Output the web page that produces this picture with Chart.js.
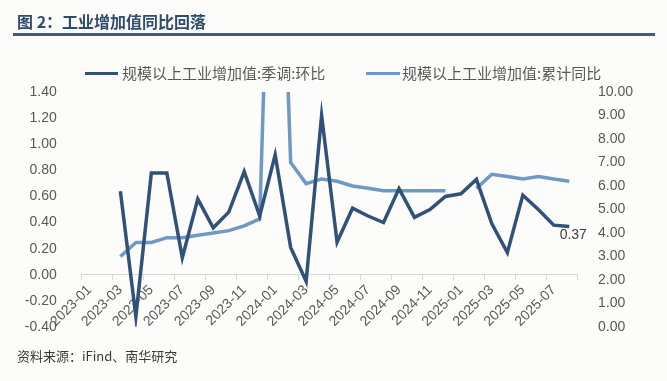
<!DOCTYPE html>
<html>
<head>
<meta charset="utf-8">
<script src="https://cdn.jsdelivr.net/npm/chart.js@4.4.1/dist/chart.umd.min.js"></script>
<style>
  body { margin: 0; background: #fcfcfa; }
  #wrap { position: relative; width: 667px; height: 381px; overflow: hidden; }
  #chart { position: absolute; left: 0; top: 0; }
  .title {
    position: absolute; left: 17px; top: 13px;
    font: bold 16px/16px "Noto Sans CJK SC", sans-serif; color: #2f4b6e;
  }
  .rule { position: absolute; left: 13px; top: 33px; width: 642px; height: 3px; background: #3f5c82; }
  .legend { position: absolute; top: 65px; left: 0; font: 15px/15px "Noto Sans CJK SC", sans-serif; color: #595959; }
  .legend .bar { position: absolute; top: 6.5px; height: 3px; }
  .legend .txt { position: absolute; top: 0; white-space: nowrap; }
  .source {
    position: absolute; left: 17px; top: 349px;
    font: 13px/13px "Noto Sans CJK SC", sans-serif; color: #3a3a3a;
  }
</style>
</head>
<body>
<div id="wrap">
  <canvas id="chart" width="667" height="381"></canvas>
  <div class="title">图 2：工业增加值同比回落</div>
  <div class="rule"></div>
  <div class="legend" id="legend"></div>
  <div class="source">资料来源：iFind、南华研究</div>
</div>
<script>
// months on the x axis (2023-01 .. 2025-08)
const months = [
  "2023-01", "2023-02", "2023-03", "2023-04", "2023-05", "2023-06", "2023-07", "2023-08",
  "2023-09", "2023-10", "2023-11", "2023-12", "2024-01", "2024-02", "2024-03", "2024-04",
  "2024-05", "2024-06", "2024-07", "2024-08", "2024-09", "2024-10", "2024-11", "2024-12",
  "2025-01", "2025-02", "2025-03", "2025-04", "2025-05", "2025-06", "2025-07", "2025-08"
];

// 规模以上工业增加值:季调:环比 (left axis, %)
const momSA = [
  null, null, 0.64, -0.32, 0.78, 0.78, 0.13, 0.58, 0.36, 0.48, 0.79, 0.45,
  0.92, 0.21, -0.05, 1.22, 0.25, 0.51, 0.45, 0.40, 0.66, 0.44, 0.50, 0.60,
  0.62, 0.73, 0.39, 0.17, 0.61, 0.50, 0.38, 0.37
];

// 规模以上工业增加值:累计同比 (right axis, %)
const ytdYoY = [
  null, null, 3.0, 3.6, 3.6, 3.8, 3.8, 3.9, 4.0, 4.1, 4.3, 4.6,
  26.0, 7.0, 6.1, 6.3, 6.2, 6.0, 5.9, 5.8, 5.8, 5.8, 5.8, 5.8,
  null, 5.9, 6.5, 6.4, 6.3, 6.4, 6.3, 6.2
];

const seriesNames = ["规模以上工业增加值:季调:环比", "规模以上工业增加值:累计同比"];
const seriesColors = ["#31507a", "#6f99c4"];

// axis ranges
const leftMin = -0.4, leftMax = 1.4, leftStep = 0.2;
const rightMin = 0, rightMax = 10, rightStep = 1;

const tickFont = { family: '"Liberation Sans", Arial, sans-serif', size: 14 };
const tickColor = "#595959";
const fmt2 = (v) => (Math.abs(v) < 1e-9 ? 0 : v).toFixed(2);

// html legend
const legendEl = document.getElementById("legend");
const legendPos = [{ bar: 85, w: 33, txt: 122 }, { bar: 366, w: 34, txt: 402 }];
seriesNames.forEach((name, i) => {
  const bar = document.createElement("div");
  bar.className = "bar";
  bar.style.left = legendPos[i].bar + "px";
  bar.style.width = legendPos[i].w + "px";
  bar.style.background = seriesColors[i];
  const txt = document.createElement("div");
  txt.className = "txt";
  txt.style.left = legendPos[i].txt + "px";
  txt.textContent = name;
  legendEl.appendChild(bar);
  legendEl.appendChild(txt);
});

// label on the last point of the MoM line
const lastLabel = {
  id: "lastLabel",
  afterDatasetsDraw(chart) {
    const i = momSA.length - 1;
    const pt = chart.getDatasetMeta(0).data[i];
    const ctx = chart.ctx;
    ctx.save();
    ctx.font = '14px "Liberation Sans", Arial, sans-serif';
    ctx.fillStyle = "#404040";
    ctx.textAlign = "center";
    ctx.textBaseline = "top";
    ctx.fillText(fmt2(momSA[i]), pt.x + 4, pt.y + 2);
    ctx.restore();
  }
};

new Chart(document.getElementById("chart"), {
  type: "line",
  data: {
    labels: months,
    datasets: [
      {
        label: seriesNames[0],
        data: momSA,
        yAxisID: "y",
        borderColor: seriesColors[0],
        borderWidth: 3.5,
        pointRadius: 0,
        tension: 0
      },
      {
        label: seriesNames[1],
        data: ytdYoY,
        yAxisID: "y1",
        borderColor: seriesColors[1],
        borderWidth: 3.5,
        pointRadius: 0,
        tension: 0,
        spanGaps: false
      }
    ]
  },
  options: {
    responsive: false,
    animation: false,
    devicePixelRatio: 1,
    layout: { padding: { top: 92, bottom: 54, left: 0, right: 0 } },
    plugins: { legend: { display: false }, tooltip: { enabled: false } },
    scales: {
      x: {
        type: "category",
        offset: true,
        position: { y: 0 },
        grid: {
          offset: true,
          drawOnChartArea: false,
          drawTicks: true,
          tickLength: 5,
          color: (c) => (c.index === undefined || c.index % 2 === 0 ? "#d9d9d9" : "rgba(0,0,0,0)")
        },
        border: { display: true, color: "#d9d9d9", width: 1 },
        ticks: {
          autoSkip: false,
          minRotation: 45,
          maxRotation: 45,
          padding: 2,
          color: tickColor,
          font: tickFont,
          callback: (v, i) => (i % 2 === 0 ? months[i] : "")
        }
      },
      y: {
        position: "left",
        min: leftMin,
        max: leftMax,
        grid: { display: false },
        border: { display: false },
        ticks: {
          stepSize: leftStep,
          padding: 17,
          color: tickColor,
          font: tickFont,
          callback: fmt2
        },
        afterFit: (s) => { s.width = 81.7; }
      },
      y1: {
        position: "right",
        min: rightMin,
        max: rightMax,
        grid: { display: false },
        border: { display: false },
        ticks: {
          stepSize: rightStep,
          padding: 13,
          color: tickColor,
          font: tickFont,
          callback: fmt2
        },
        afterFit: (s) => { s.width = 90; }
      }
    }
  },
  plugins: [lastLabel]
});
</script>
</body>
</html>
